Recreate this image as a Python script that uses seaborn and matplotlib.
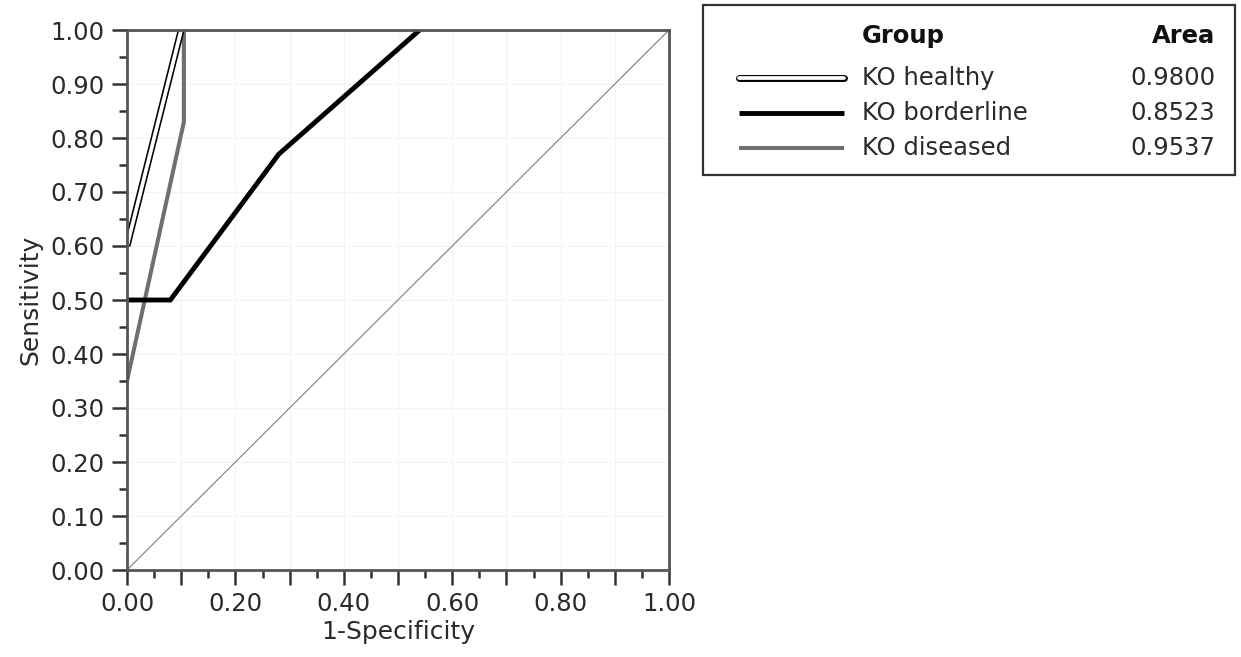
import matplotlib
matplotlib.use("Agg")
import matplotlib.pyplot as plt
from matplotlib.lines import Line2D
from matplotlib.patches import Rectangle
from matplotlib.ticker import FixedLocator
import seaborn as sns
import pandas as pd
import numpy as np

# ---- data ----
groups = ["KO healthy", "KO borderline", "KO diseased"]
areas = ["0.9800", "0.8523", "0.9537"]
healthy_fpr = [0.0, 0.10]
healthy_tpr = [0.60, 1.0]
borderline_fpr = [0.0, 0.08, 0.28, 0.54]
borderline_tpr = [0.50, 0.50, 0.77, 1.0]
diseased_fpr = [0.0, 0.105, 0.105]
diseased_tpr = [0.35, 0.83, 1.0]
ref_fpr = [0.0, 1.0]
ref_tpr = [0.0, 1.0]
x_ticklabels = ["0.00", "0.20", "0.40", "0.60", "0.80", "1.00"]
y_ticklabels = ["%.2f" % v for v in np.arange(0, 1.01, 0.1)]

sns.set_theme(style="white")
plt.rcParams["font.family"] = ["DejaVu Sans"]

W, H = 1241, 657
FS = 17.5
fig = plt.figure(figsize=(W / 100, H / 100), dpi=100)
ax = fig.add_axes([127 / W, 1 - 570 / H, (669 - 127) / W, (570 - 30) / H])

grey = "#6f6f6f"
tc = "#2a2a2a"

def df(x, y):
    return pd.DataFrame({"fpr": x, "tpr": y})

sns.lineplot(data=df(ref_fpr, ref_tpr), x="fpr", y="tpr", ax=ax, color="#8a8a8a",
             lw=0.9, sort=False, estimator=None)
sns.lineplot(data=df(diseased_fpr, diseased_tpr), x="fpr", y="tpr", ax=ax, color=grey,
             lw=2.9, sort=False, estimator=None)
sns.lineplot(data=df(borderline_fpr, borderline_tpr), x="fpr", y="tpr", ax=ax, color="black",
             lw=3.5, sort=False, estimator=None)
sns.lineplot(data=df(healthy_fpr, healthy_tpr), x="fpr", y="tpr", ax=ax, color="black",
             lw=5.0, sort=False, estimator=None)
sns.lineplot(data=df(healthy_fpr, healthy_tpr), x="fpr", y="tpr", ax=ax, color="white",
             lw=2.7, sort=False, estimator=None)

ax.set_xlim(0, 1)
ax.set_ylim(0, 1)
for l in ax.lines:
    l.set_solid_joinstyle("miter")
    l.set_solid_capstyle("butt")

ax.xaxis.set_major_locator(FixedLocator(np.arange(0, 1.01, 0.2)))
ax.set_xticklabels(x_ticklabels)
ax.xaxis.set_minor_locator(FixedLocator([v for v in np.arange(0.05, 1.0, 0.05)
                                         if abs(v / 0.1 - round(v / 0.1)) > 1e-6]))
ax.yaxis.set_major_locator(FixedLocator(np.arange(0, 1.01, 0.1)))
ax.set_yticklabels(y_ticklabels)
ax.yaxis.set_minor_locator(FixedLocator(np.arange(0.05, 1.0, 0.1)))

ax.tick_params(axis="both", which="major", direction="out", length=11, width=1.8,
               color="#333333", labelsize=FS, labelcolor=tc, pad=5,
               bottom=True, left=True)
ax.tick_params(axis="both", which="minor", direction="out", length=5.5, width=1.8,
               color="#333333", bottom=True, left=True)
# long unlabelled ticks at odd tenths on the x axis (0.1, 0.3, ...)
tick_len_axes = (11 / 72 * 100) / 540
for v in np.arange(0.1, 1.0, 0.2):
    ax.add_line(Line2D([v, v], [0, -tick_len_axes], transform=ax.get_xaxis_transform(),
                       color="#333333", lw=1.8, clip_on=False, solid_capstyle="butt"))

ax.grid(True, which="major", color="#f3f3f3", lw=0.8)
for v in np.arange(0.1, 1.0, 0.2):
    ax.axvline(v, color="#f3f3f3", lw=0.8, zorder=0)
ax.set_axisbelow(True)

for s in ax.spines.values():
    s.set_color("#555555")
    s.set_linewidth(2.0)
    s.set_visible(True)

ax.set_xlabel("1-Specificity", fontsize=FS + 0.5, color=tc, labelpad=3)
ax.set_ylabel("Sensitivity", fontsize=FS + 0.5, color=tc, labelpad=6)

# ---- legend box ----
def fx(px):
    return px / W

def fy(py):
    return 1 - py / H

fig.patches.append(Rectangle((fx(703), fy(175)), fx(1235) - fx(703), fy(5) - fy(175),
                             transform=fig.transFigure, fill=False, edgecolor="#333333", lw=1.6))
fig.text(fx(862), fy(36), "Group", fontsize=FS, fontweight="bold", va="center", ha="left", color="#111111")
fig.text(fx(1215), fy(36), "Area", fontsize=FS, fontweight="bold", va="center", ha="right", color="#111111")
row_y = [78, 113, 148]
styles = [
    [dict(color="black", lw=5.0, solid_capstyle="round"),
     dict(color="white", lw=2.7, solid_capstyle="round")],
    [dict(color="black", lw=3.5, solid_capstyle="butt")],
    [dict(color=grey, lw=2.9, solid_capstyle="butt")],
]
for g, a, yy, st in zip(groups, areas, row_y, styles):
    for s in st:
        fig.lines.append(Line2D([fx(739), fx(844)], [fy(yy), fy(yy)], transform=fig.transFigure, **s))
    fig.text(fx(862), fy(yy), g, fontsize=FS, va="center", ha="left", color=tc)
    fig.text(fx(1215), fy(yy), a, fontsize=FS, va="center", ha="right", color=tc)

fig.savefig("out.png", dpi=100, facecolor="white")
